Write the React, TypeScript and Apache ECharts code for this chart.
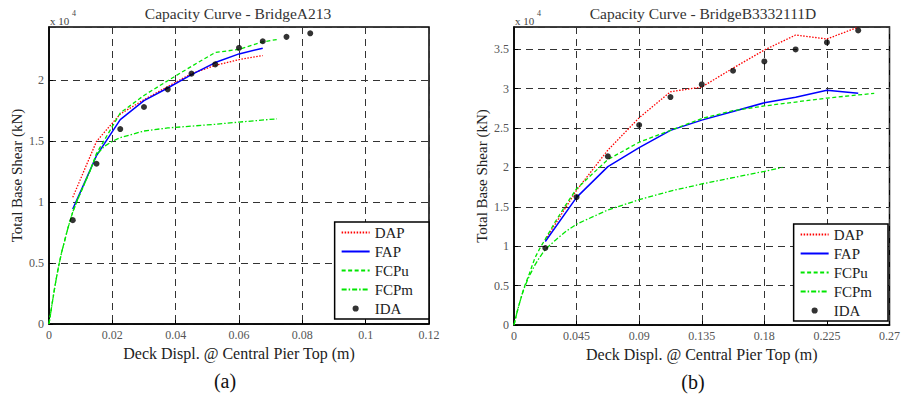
import React, { useEffect, useRef } from "react";
import * as echarts from "echarts";

// ---------- Data (base shear in kN, displacement in m) ----------
// Plot (a) BridgeA213
const aIdaX = [0.0075, 0.015, 0.0225, 0.03, 0.0375, 0.045, 0.0525, 0.06, 0.0675, 0.075, 0.0825];
const aIdaY = [8530, 13160, 16010, 17820, 19270, 20560, 21320, 22670, 23220, 23580, 23870];
const aDapX = [0.0075, 0.015, 0.0225, 0.03, 0.0375, 0.045, 0.0525, 0.06, 0.0675];
const aDapY = [10400, 15000, 17240, 18420, 19500, 20560, 21240, 21710, 22040];
const aFapX = [0.0075, 0.015, 0.0225, 0.03, 0.0375, 0.045, 0.0525, 0.06, 0.0675];
const aFapY = [9430, 13820, 16780, 18340, 19380, 20480, 21470, 22180, 22650];
const aFcpuX = [0, 0.001, 0.002, 0.003, 0.004, 0.005, 0.006, 0.0075, 0.009, 0.011, 0.013, 0.015, 0.0225, 0.03, 0.0375, 0.045, 0.0525, 0.06, 0.0675, 0.072];
const aFcpuY = [0, 1700, 3300, 4700, 5900, 6900, 7900, 9200, 10200, 11400, 12600, 14000, 17330, 18770, 19980, 21160, 22300, 22550, 23170, 23360];
const aFcpmX = [0, 0.001, 0.002, 0.003, 0.004, 0.005, 0.006, 0.0075, 0.009, 0.011, 0.013, 0.015, 0.0175, 0.02, 0.0225, 0.03, 0.0375, 0.045, 0.0525, 0.06, 0.072];
const aFcpmY = [0, 1700, 3300, 4700, 5900, 6900, 7900, 9200, 10200, 11400, 12600, 13900, 14600, 15000, 15300, 15850, 16100, 16250, 16400, 16580, 16850];

// Plot (b) BridgeB3332111D
const bIdaX = [0.0225, 0.045, 0.0675, 0.09, 0.1125, 0.135, 0.1575, 0.18, 0.2025, 0.225, 0.2475];
const bIdaY = [9770, 16240, 21400, 25380, 28930, 30530, 32270, 33450, 34970, 35860, 37390];
const bDapX = [0.0225, 0.045, 0.0675, 0.09, 0.1125, 0.135, 0.1575, 0.18, 0.2025, 0.225, 0.2475];
const bDapY = [10800, 17100, 22200, 26300, 29600, 30200, 32600, 34900, 36800, 36300, 37800];
const bFapX = [0.0225, 0.045, 0.0675, 0.09, 0.1125, 0.135, 0.1575, 0.18, 0.2025, 0.225, 0.2475];
const bFapY = [10600, 16200, 20100, 22500, 24700, 26000, 27100, 28200, 28900, 29800, 29400];
const bFcpuX = [0, 0.002, 0.004, 0.006, 0.008, 0.011, 0.015, 0.0185, 0.0225, 0.03, 0.0375, 0.045, 0.0675, 0.09, 0.1125, 0.135, 0.1575, 0.18, 0.225, 0.259];
const bFcpuY = [0, 1500, 2800, 4000, 5100, 6500, 8500, 9700, 10900, 13200, 15300, 17300, 21000, 23200, 24700, 26200, 27200, 27800, 28800, 29400];
const bFcpmX = [0, 0.002, 0.004, 0.006, 0.008, 0.011, 0.015, 0.0185, 0.0225, 0.03, 0.0375, 0.045, 0.0675, 0.09, 0.1125, 0.135, 0.1575, 0.18, 0.193];
const bFcpmY = [0, 1500, 2800, 4000, 5000, 6200, 7600, 8600, 9600, 10800, 11900, 12800, 14600, 15900, 17000, 17900, 18700, 19500, 20000];

const seriesNames = ["DAP", "FAP", "FCPu", "FCPm", "IDA"];
const titles = ["Capacity Curve - BridgeA213", "Capacity Curve - BridgeB3332111D"];
const xAxisName = "Deck Displ. @ Central Pier Top (m)";
const yAxisName = "Total Base Shear (kN)";
const panelLabels = ["(a)", "(b)"];

const FONT = "Liberation Serif";
const RED = "#ff0000";
const BLUE = "#0000ff";
const GREEN = "#00e600";

const pairs = (xs: number[], ys: number[]) => xs.map((x, i) => [x, ys[i]]);

const idaIcon = "path://M0,0M10,10M7.2,5A2.2,2.2,0,1,1,2.8,5A2.2,2.2,0,1,1,7.2,5Z";

function makeAxes(gridIndex: number, xMax: number, xInt: number, yMax: number) {
  const x = {
    type: "value",
    gridIndex,
    min: 0,
    max: xMax,
    interval: xInt,
    name: xAxisName,
    nameLocation: "middle",
    nameGap: 18,
    nameTextStyle: { fontFamily: FONT, fontSize: 16, color: "#222" },
    axisLine: { show: true, onZero: false, lineStyle: { color: "#000", width: 1.5 } },
    axisTick: { show: true, inside: true, length: 4, lineStyle: { color: "#000" } },
    axisLabel: {
      fontFamily: FONT,
      fontSize: 12,
      color: "#555",
      margin: 5,
      showMaxLabel: true,
      formatter: (v: number) => String(+v.toFixed(4)),
    },
    splitLine: { show: true, lineStyle: { color: "#333", width: 1, type: [7, 5] } },
  };
  const y = {
    type: "value",
    gridIndex,
    min: 0,
    max: yMax,
    interval: 5000,
    name: yAxisName,
    nameLocation: "middle",
    nameGap: 25,
    nameTextStyle: { fontFamily: FONT, fontSize: 15, color: "#222" },
    axisLine: { show: true, onZero: false, lineStyle: { color: "#000", width: 1.5 } },
    axisTick: { show: true, inside: true, length: 4, lineStyle: { color: "#000" } },
    axisLabel: {
      fontFamily: FONT,
      fontSize: 12,
      color: "#555",
      margin: 5,
      showMaxLabel: false,
      formatter: (v: number) => String(+(v / 10000).toFixed(2)),
    },
    splitLine: { show: true, lineStyle: { color: "#333", width: 1, type: [7, 5] } },
  };
  return { x, y };
}

function makeSeries(idx: number, d: { dap: number[][]; fap: number[][]; fcpu: number[][]; fcpm: number[][]; ida: number[][] }) {
  const common = { xAxisIndex: idx, yAxisIndex: idx, symbol: "none", showSymbol: false };
  return [
    { ...common, name: "DAP", type: "line", data: d.dap, lineStyle: { color: RED, width: 1.3, type: [1.5, 1.5] }, itemStyle: { color: RED }, z: 3 },
    { ...common, name: "FAP", type: "line", data: d.fap, lineStyle: { color: BLUE, width: 1.5, type: "solid" }, itemStyle: { color: BLUE }, z: 3 },
    { ...common, name: "FCPu", type: "line", data: d.fcpu, lineStyle: { color: GREEN, width: 1.3, type: [4, 2.5] }, itemStyle: { color: GREEN }, z: 4 },
    { ...common, name: "FCPm", type: "line", data: d.fcpm, lineStyle: { color: GREEN, width: 1.3, type: [5, 2, 1.5, 2] }, itemStyle: { color: GREEN }, z: 4 },
    { xAxisIndex: idx, yAxisIndex: idx, name: "IDA", type: "scatter", data: d.ida, symbol: "circle", symbolSize: 6, itemStyle: { color: "#000" }, z: 5 },
  ];
}

export default function App() {
  const ref = useRef<HTMLDivElement>(null);

  useEffect(() => {
    if (!ref.current) return;
    const chart = echarts.init(ref.current, null, { renderer: "svg" });
    const a = makeAxes(0, 0.12, 0.02, 24390);
    const b = makeAxes(1, 0.27, 0.045, 37820);

    const legendData = seriesNames.map((n) =>
      n === "IDA" ? { name: n, icon: idaIcon } : { name: n, itemStyle: { opacity: 0 } }
    );
    const legendCommon = {
      orient: "vertical",
      data: legendData,
      itemWidth: 28,
      itemHeight: 14,
      itemGap: 4,
      padding: [3, 16, 3, 6],
      borderColor: "#000",
      borderWidth: 1.5,
      backgroundColor: "#fff",
      selectedMode: false,
      textStyle: { fontFamily: FONT, fontSize: 15, color: "#222", lineHeight: 15 },
    };

    const titleStyle = { fontFamily: FONT, fontSize: 15.5, fill: "#333" };

    chart.setOption({
      animation: false,
      backgroundColor: "#fff",
      textStyle: { fontFamily: FONT },
      grid: [
        { left: 49, top: 27, width: 380, height: 297, show: true, borderColor: "#000", borderWidth: 1.5, backgroundColor: "transparent" },
        { left: 514, top: 27, width: 379, height: 298, show: true, borderColor: "#000", borderWidth: 1.5, backgroundColor: "transparent" },
      ],
      xAxis: [a.x, b.x],
      yAxis: [a.y, b.y],
      legend: [
        { ...legendCommon, right: 474, bottom: 80 },
        { ...legendCommon, right: 15, bottom: 78 },
      ],
      series: [
        ...makeSeries(0, {
          dap: pairs(aDapX, aDapY),
          fap: pairs(aFapX, aFapY),
          fcpu: pairs(aFcpuX, aFcpuY),
          fcpm: pairs(aFcpmX, aFcpmY),
          ida: pairs(aIdaX, aIdaY),
        }),
        ...makeSeries(1, {
          dap: pairs(bDapX, bDapY),
          fap: pairs(bFapX, bFapY),
          fcpu: pairs(bFcpuX, bFcpuY),
          fcpm: pairs(bFcpmX, bFcpmY),
          ida: pairs(bIdaX, bIdaY),
        }),
      ],
      graphic: [
        { type: "text", x: 238, y: 13, style: { ...titleStyle, text: titles[0], textAlign: "center", textVerticalAlign: "middle" } },
        { type: "text", x: 703, y: 13, style: { ...titleStyle, text: titles[1], textAlign: "center", textVerticalAlign: "middle" } },
        { type: "text", x: 50, y: 21, style: { fontFamily: FONT, fontSize: 11, fill: "#444", text: "x 10", textVerticalAlign: "middle" } },
        { type: "text", x: 72, y: 13, style: { fontFamily: FONT, fontSize: 8, fill: "#444", text: "4", textVerticalAlign: "middle" } },
        { type: "text", x: 515, y: 21, style: { fontFamily: FONT, fontSize: 11, fill: "#444", text: "x 10", textVerticalAlign: "middle" } },
        { type: "text", x: 537, y: 13, style: { fontFamily: FONT, fontSize: 8, fill: "#444", text: "4", textVerticalAlign: "middle" } },
        { type: "text", x: 225, y: 381, style: { fontFamily: FONT, fontSize: 20, fill: "#111", text: panelLabels[0], textAlign: "center", textVerticalAlign: "middle" } },
        { type: "text", x: 693, y: 382, style: { fontFamily: FONT, fontSize: 20, fill: "#111", text: panelLabels[1], textAlign: "center", textVerticalAlign: "middle" } },
      ],
    });
    return () => chart.dispose();
  }, []);

  return <div ref={ref} style={{ position: "absolute", left: 0, top: 0, width: 903, height: 399 }} />;
}
